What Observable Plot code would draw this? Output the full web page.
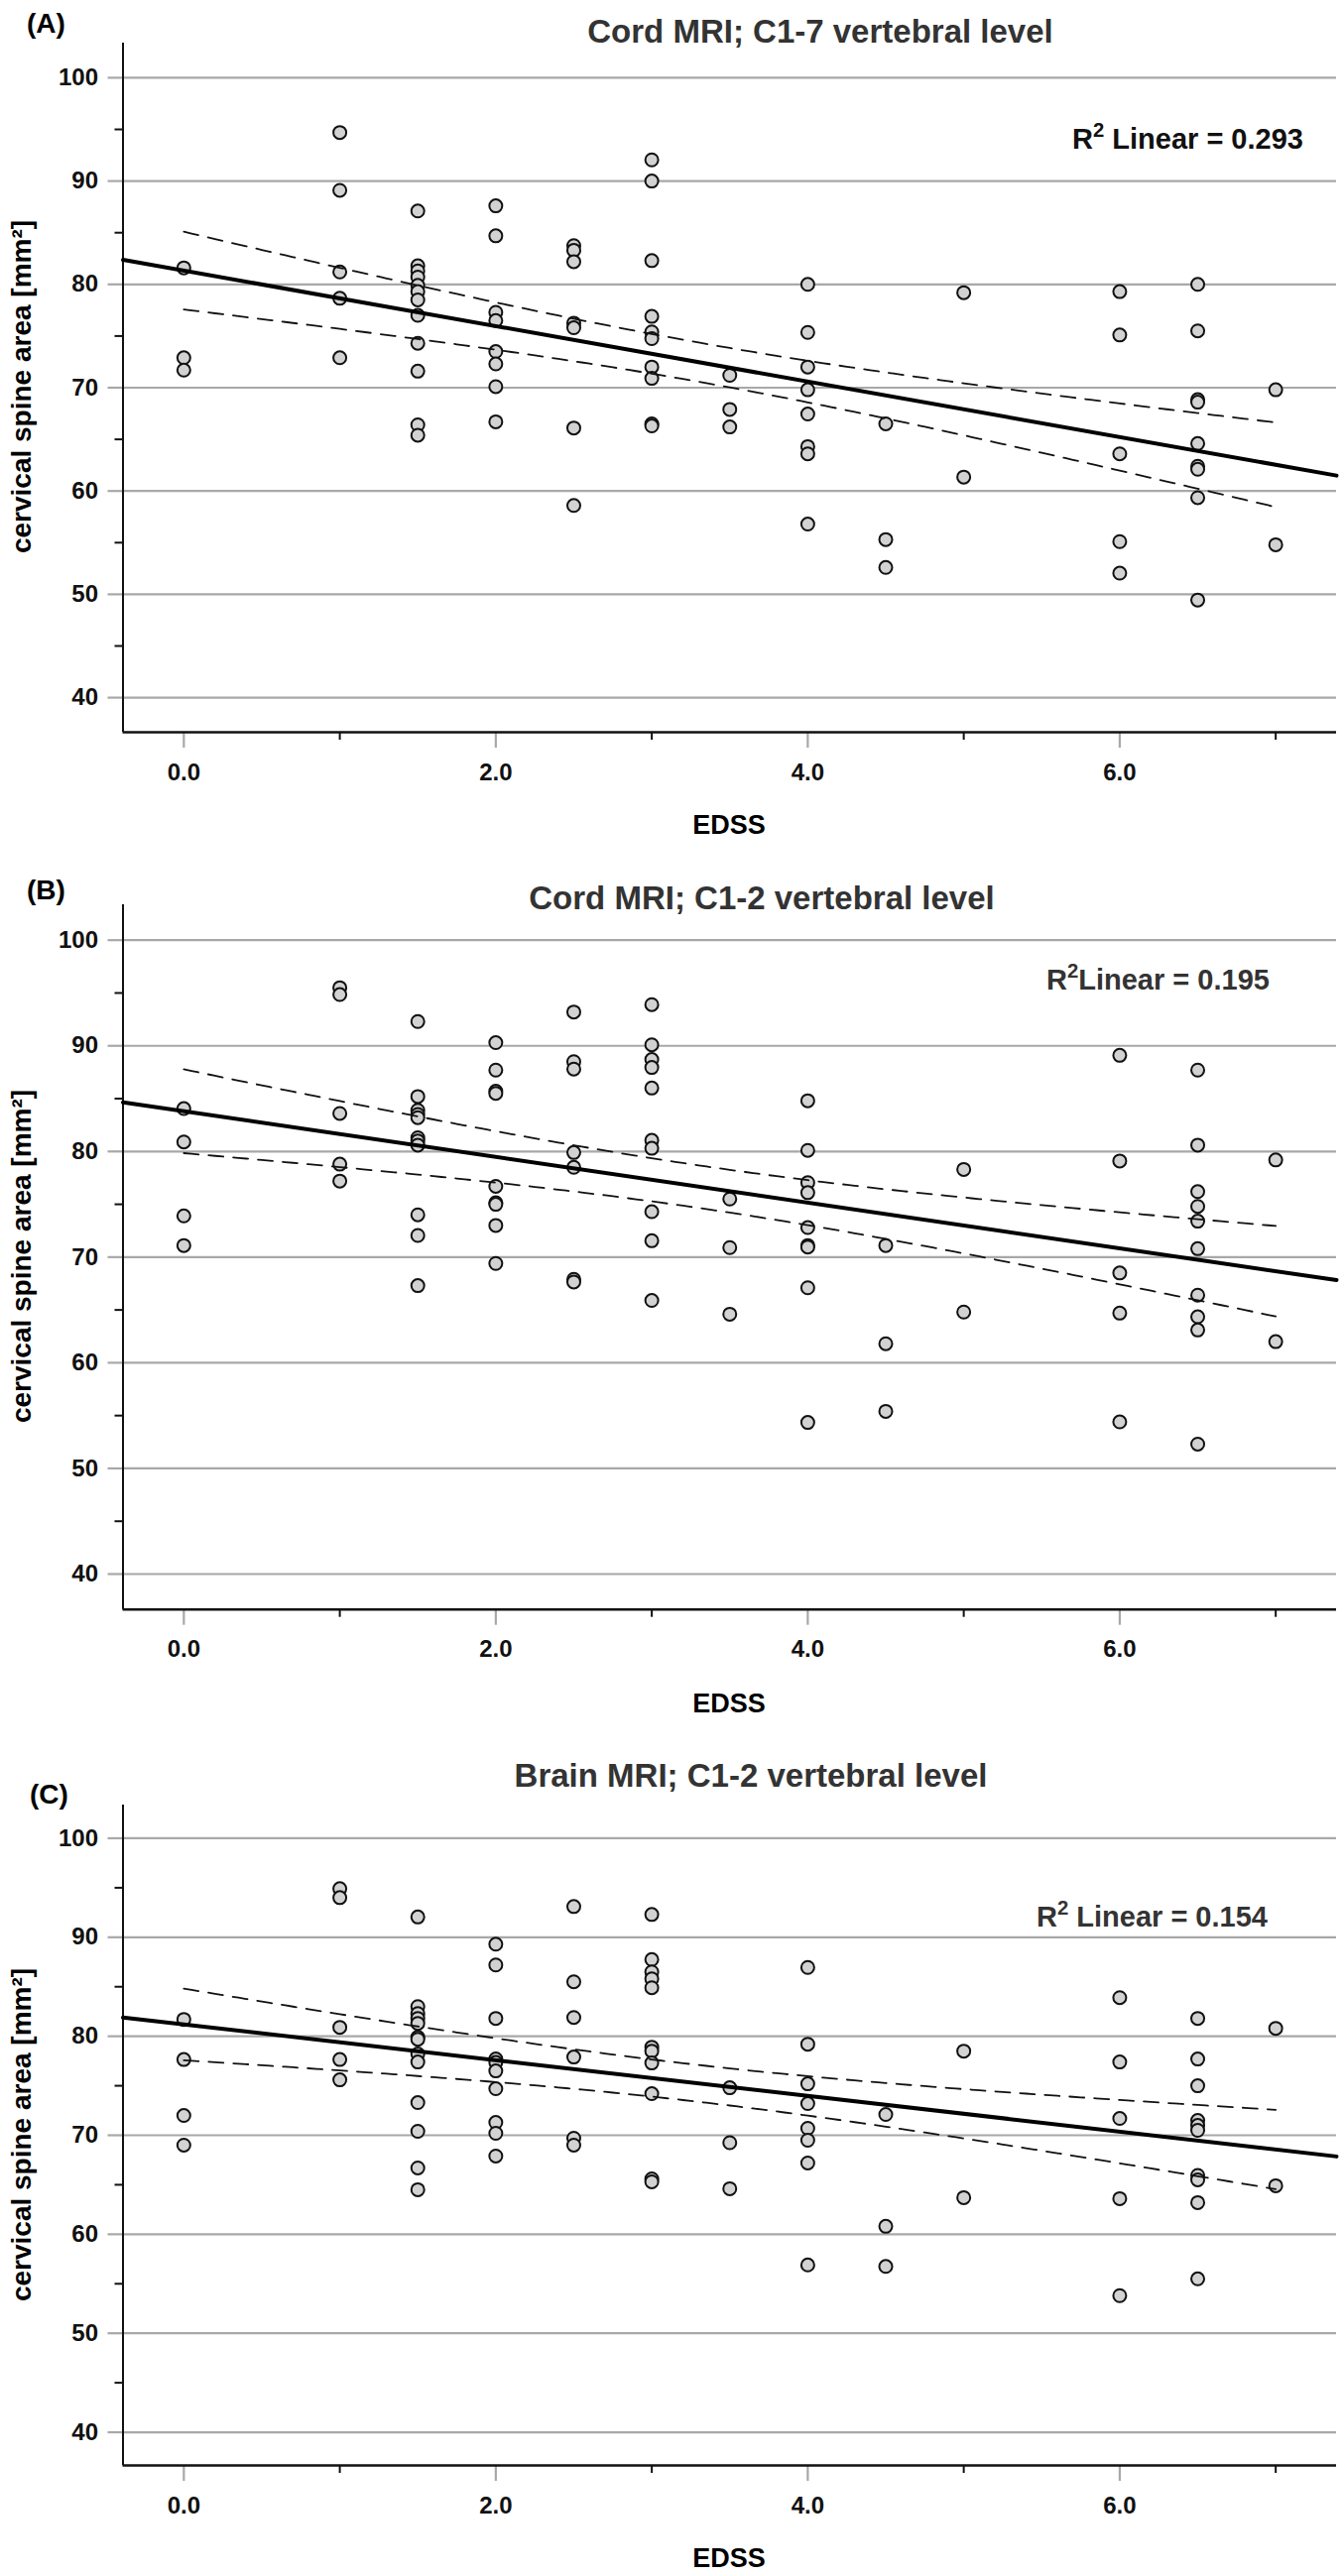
<!DOCTYPE html>
<html>
<head>
<meta charset="utf-8">
<script src="https://cdn.jsdelivr.net/npm/d3@7"></script>
<script src="https://cdn.jsdelivr.net/npm/@observablehq/plot@0.6"></script>
<style>
  body { margin: 0; background: #fff; font-family: "Liberation Sans", Arial, sans-serif; }
  #page { position: relative; width: 1354px; height: 2598px; overflow: hidden; }
  .panel { position: absolute; left: 0; width: 1354px; height: 866px; }
  .panel svg { position: absolute; left: 0; top: 0; }
  .lbl { position: absolute; white-space: nowrap; font-weight: bold; line-height: 1; }
  .lbl sup { font-size: 0.7em; vertical-align: 0.55em; line-height: 0; }
</style>
</head>
<body>
<div id="page"></div>
<script>
// escalas comunes a los tres paneles
const xDomain = [-0.39, 7.39]
const yDomain = [36.65, 103.35]
const xMajor = [0, 2, 4, 6]
const xMinor = [1, 3, 5, 7]
const yMajor = [40, 50, 60, 70, 80, 90, 100]
const yMinor = [45, 55, 65, 75, 85, 95]

// niveles de EDSS (eje x)
const edssLevels = [0, 1, 1.5, 2, 2.5, 3, 3.5, 4, 4.5, 5, 6, 6.5, 7]

// (A) Cord MRI; C1-7 - area por nivel de EDSS
const areaA = [
  [81.6, 72.9, 71.7],
  [94.7, 89.1, 81.2, 78.65, 72.9],
  [87.1, 81.8, 81.3, 80.7, 79.9, 79.3, 78.5, 77.0, 74.3, 71.6, 66.4, 65.4],
  [87.6, 84.7, 77.3, 76.5, 73.5, 72.3, 70.1, 66.7],
  [83.75, 83.3, 82.2, 76.25, 75.8, 66.1, 58.6],
  [92.05, 90.0, 82.3, 76.9, 75.4, 74.75, 72.0, 70.9, 66.5, 66.3],
  [71.2, 67.9, 66.2],
  [80.0, 75.35, 72.0, 69.8, 67.45, 64.3, 63.6, 56.8],
  [66.5, 55.3, 52.6],
  [79.2, 61.35],
  [79.3, 75.1, 63.6, 55.1, 52.05],
  [80.0, 75.5, 68.85, 68.6, 64.6, 62.4, 62.1, 59.35, 49.45],
  [69.8, 54.8]
]

// (B) Cord MRI; C1-2
const areaB = [
  [84.06, 80.9, 73.9, 71.1],
  [95.5, 94.85, 83.6, 78.8, 77.2],
  [92.3, 85.2, 83.9, 83.5, 83.2, 81.3, 81.0, 80.6, 74.0, 72.05, 67.3],
  [90.3, 87.7, 85.7, 85.5, 76.7, 75.15, 75.0, 73.0, 69.4],
  [93.2, 88.5, 87.8, 79.9, 78.5, 67.9, 67.65],
  [93.9, 90.1, 88.7, 87.95, 86.0, 81.05, 80.3, 74.3, 71.55, 65.9],
  [75.5, 70.9, 64.6],
  [84.8, 80.1, 77.05, 76.1, 72.8, 71.1, 70.95, 67.1, 54.35],
  [71.1, 61.8, 55.4],
  [78.3, 64.8],
  [89.1, 79.1, 68.5, 64.7, 54.4],
  [87.7, 80.6, 76.2, 74.8, 73.4, 70.8, 66.4, 64.35, 63.1, 52.3],
  [79.2, 62.0]
]

// (C) Brain MRI; C1-2
const areaC = [
  [81.7, 77.65, 72.0, 69.0],
  [94.9, 94.0, 80.9, 77.65, 75.6],
  [92.05, 83.0, 82.3, 81.8, 81.3, 79.9, 79.7, 78.2, 77.4, 73.3, 70.4, 66.7, 64.5],
  [89.3, 87.2, 81.8, 77.7, 77.35, 76.5, 74.7, 71.3, 70.2, 67.9],
  [93.1, 85.5, 81.9, 77.9, 69.7, 69.0],
  [92.3, 87.75, 86.5, 85.8, 84.9, 78.9, 78.5, 77.3, 74.2, 65.6, 65.3],
  [74.8, 69.25, 64.6],
  [86.95, 79.2, 75.2, 73.2, 70.7, 69.5, 67.2, 56.9],
  [72.1, 60.8, 56.75],
  [78.5, 63.7],
  [83.9, 77.4, 71.7, 63.6, 53.8],
  [81.8, 77.7, 75.0, 71.5, 71.0, 70.5, 65.95, 65.5, 63.2, 55.5],
  [80.8, 64.9]
]

const panelLetters = ['(A)', '(B)', '(C)']
const panelTitles = ['Cord MRI; C1-7 vertebral level', 'Cord MRI; C1-2 vertebral level', 'Brain MRI; C1-2 vertebral level']
const r2Texts = ['R<sup>2</sup> Linear = 0.293', 'R<sup>2</sup>Linear = 0.195', 'R<sup>2</sup> Linear = 0.154']

// ajuste lineal + IC 95% de la media
function fit(points) {
  const n = points.length
  const xbar = d3.mean(points, d => d.edss)
  const ybar = d3.mean(points, d => d.area)
  const sxx = d3.sum(points, d => (d.edss - xbar) ** 2)
  const sxy = d3.sum(points, d => (d.edss - xbar) * (d.area - ybar))
  const b = sxy / sxx
  const a = ybar - b * xbar
  const sse = d3.sum(points, d => (d.area - a - b * d.edss) ** 2)
  const s = Math.sqrt(sse / (n - 2))
  const z = 1.959964
  const t = z + (z ** 3 + z) / (4 * (n - 2))
  const f = x => a + b * x
  const half = x => t * s * Math.sqrt(1 / n + (x - xbar) ** 2 / sxx)
  return { f, half }
}

function drawPanel(k, areas, cfg) {
  const points = edssLevels.flatMap((e, i) => areas[i].map(v => ({ edss: e, area: v })))
  const { f, half } = fit(points)
  const fitLine = xDomain.map(x => ({ edss: x, area: f(x) }))
  const ciX = d3.range(d3.min(points, d => d.edss), d3.max(points, d => d.edss) + 1e-9, 0.05)
  const ciHi = ciX.map(x => ({ edss: x, area: f(x) + half(x) }))
  const ciLo = ciX.map(x => ({ edss: x, area: f(x) - half(x) }))

  const chart = Plot.plot({
    width: 1354,
    height: 866,
    marginLeft: 123.5,
    marginRight: 7,
    marginTop: cfg.top,
    marginBottom: cfg.bottom,
    style: { fontFamily: '"Liberation Sans", Arial, sans-serif', fontWeight: 'bold', background: 'transparent', overflow: 'visible' },
    x: { domain: xDomain },
    y: { domain: yDomain },
    marks: [
      Plot.gridY(yMajor, { stroke: '#a8a8a8', strokeOpacity: 1, strokeWidth: 2.2 }),
      // ticks grises principales + etiquetas
      Plot.axisY(yMajor, { tickSize: 15, stroke: '#a8a8a8', strokeWidth: 2.2, tickFormat: () => '', label: null }),
      Plot.axisY(yMajor, { tickSize: 0, tickPadding: 25, fontSize: 24, fill: '#111', label: null }),
      Plot.axisY(yMinor, { tickSize: 8, strokeWidth: 2, stroke: '#111', tickFormat: () => '', label: null }),
      Plot.axisX(xMajor, { tickSize: 16, stroke: '#a8a8a8', strokeWidth: 2.2, tickFormat: () => '', label: null }),
      Plot.axisX(xMajor, { tickSize: 0, tickPadding: 31, fontSize: 24, fill: '#111', tickFormat: d3.format('.1f'), label: null }),
      Plot.axisX(xMinor, { tickSize: 8, strokeWidth: 2, stroke: '#111', tickFormat: () => '', label: null }),
      Plot.ruleX([xDomain[0]], { stroke: '#111', strokeWidth: 2 }),
      Plot.ruleY([yDomain[0]], { stroke: '#111', strokeWidth: 2.5 }),
      Plot.dot(points, { x: 'edss', y: 'area', r: 6.5, fill: '#d2d2d2', stroke: '#111', strokeWidth: 2 }),
      Plot.line(ciHi, { x: 'edss', y: 'area', stroke: '#111', strokeWidth: 1.8, strokeDasharray: '15,10' }),
      Plot.line(ciLo, { x: 'edss', y: 'area', stroke: '#111', strokeWidth: 1.8, strokeDasharray: '15,10' }),
      Plot.line(fitLine, { x: 'edss', y: 'area', stroke: '#000', strokeWidth: 4 })
    ]
  })

  const panel = d3.select('#page').append('div').attr('class', 'panel').style('top', cfg.offset + 'px')
  panel.append(() => chart)

  const label = (html, x, y, size, extra) => panel.append('div').attr('class', 'lbl')
    .style('left', x + 'px').style('top', y + 'px').style('font-size', size + 'px')
    .style('transform', extra || 'translate(0,-50%)')
    .html(html)

  label(panelLetters[k], cfg.letter[0], cfg.letter[1], 28)
  label(panelTitles[k], cfg.title[0], cfg.title[1], 33, 'translate(-50%,-50%)').style('color', '#333')
  label(r2Texts[k], cfg.r2[0], cfg.r2[1], 29).style('color', k === 0 ? '#111' : '#333')
  label('cervical spine area [mm²]', 22, cfg.ylab, 28, 'translate(-50%,-50%) rotate(-90deg)')
  label('EDSS', 735, cfg.edss, 27, 'translate(-50%,-50%)')
}

drawPanel(0, areaA, { offset: 0, top: 43, bottom: 128, letter: [27, 24], title: [827, 31], r2: [1081, 140], ylab: 390, edss: 832 })
drawPanel(1, areaB, { offset: 866, top: 46, bottom: 109.3, letter: [27, 32], title: [768, 39], r2: [1055, 122], ylab: 401, edss: 852 })
drawPanel(2, areaC, { offset: 1732, top: 88, bottom: 112, letter: [30, 78], title: [757, 58], r2: [1045, 201], ylab: 421, edss: 848 })
</script>
</body>
</html>
